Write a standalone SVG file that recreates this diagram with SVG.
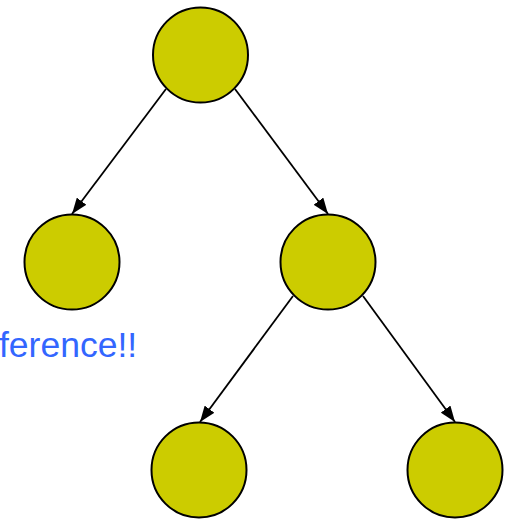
<svg xmlns="http://www.w3.org/2000/svg" width="511" height="519" viewBox="0 0 511 519">
<defs>
<style>
.node{fill:#cccc00;stroke:#000;stroke-width:2}
.edge{stroke:#000;stroke-width:1.8;fill:none;marker-end:url(#arr)}
.lbl{font-family:"Liberation Sans",Arial,sans-serif;font-size:35.5px;fill:#3366ff}
</style>
<marker id="arr" viewBox="0 0 16 12" refX="16" refY="6" markerWidth="16" markerHeight="12" markerUnits="userSpaceOnUse" orient="auto">
<path d="M0,0 L16,6 L0,12 Z" fill="#000"/>
</marker>
</defs>
<rect width="511" height="519" fill="#fff"/>
<g id="connectors">
<line class="edge" x1="166" y1="89" x2="72" y2="214"/>
<line class="edge" x1="235" y1="89" x2="328" y2="214"/>
<line class="edge" x1="293" y1="296" x2="200" y2="422"/>
<line class="edge" x1="363" y1="296" x2="455" y2="422"/>
</g>
<g id="n-root"><circle class="node" cx="200.5" cy="55" r="47.5"/></g>
<g id="n-left"><circle class="node" cx="72" cy="262" r="47.5"/></g>
<g id="n-right"><circle class="node" cx="328" cy="262" r="47.5"/></g>
<g id="n-rl"><circle class="node" cx="199" cy="470" r="47.5"/></g>
<g id="n-rr"><circle class="node" cx="455" cy="470" r="47.5"/></g>
<text class="lbl" x="-1" y="357">ference!!</text>
</svg>
